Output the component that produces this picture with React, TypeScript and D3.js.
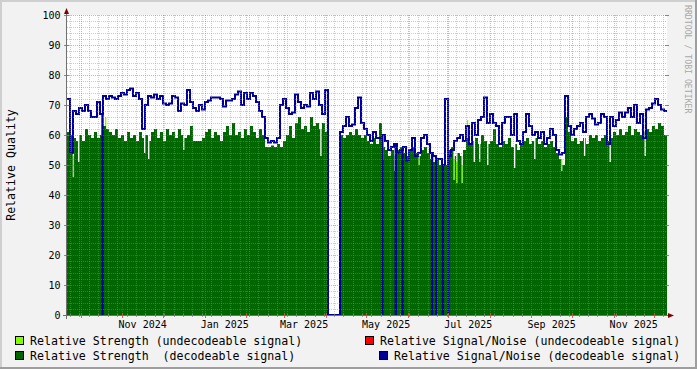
import React from 'react';
import * as d3 from 'd3';

const W = 697;
const H = 369;
const START = new Date(2024, 8, 20, 18);
const END = new Date(2025, 11, 10, 18);

// Relative strength of decodeable signal, regular samples across the window
const strength: number[] = [
  61, 60, 59, 58, 60, 58, 62, 60, 59, 61,
  59, 60, 63, 62, 61, 60, 62, 59, 60, 58,
  61, 59, 60, 58, 61, 59, 60, 58, 61, 62,
  59, 61, 58, 62, 60, 61, 59, 62, 60, 59,
  60, 63, 58, 58, 58, 59, 61, 62, 59, 61,
  60, 58, 61, 63, 60, 64, 60, 61, 59, 62,
  60, 63, 61, 59, 62, 60, 56, 56, 56.5, 56,
  57, 56, 58, 60, 63, 59, 64, 66, 62, 63,
  61, 66, 63, 64, 62, 64, 61, 0, 0, 0,
  0, 60, 59, 60, 61, 60, 62, 60, 59, 60,
  58, 57, 59, 57, 64, 56, 55, 53, 55, 53,
  55, 56, 54, 53, 55, 56, 54, 53, 55, 56,
  54, 52, 51, 52, 50, 51, 50, 55, 56, 53,
  54, 53, 55, 59, 57, 58, 59, 57, 60, 58,
  57, 58, 62, 57, 56, 58, 57, 59, 56, 57,
  55, 57, 58, 59, 57, 58, 59, 57, 58, 56,
  57, 58, 56, 54, 52, 50, 66, 61, 58, 59,
  57, 58, 59, 57, 60, 59, 60, 58, 59, 60,
  58, 59, 61, 60, 62, 60, 61, 63, 60, 62,
  61, 60, 61, 62, 61, 63, 62, 64, 63, 60,
];

// Relative signal/noise of decodeable signal, same samples
const snr: number[] = [
  72, 54, 68, 67, 69, 68, 70, 68, 66, 66,
  71, 67, 73, 72, 73, 72.5, 72, 73, 74, 73.5,
  75, 75.5, 73, 74, 72, 62, 70, 73, 72.5, 73.5,
  72, 73, 70.5, 70, 70.5, 73, 72.5, 68, 70.5, 70,
  75, 71, 69, 68, 70, 68.5, 71, 71.5, 72.5, 72.5,
  72.5, 72, 69.5, 71.5, 71.5, 72, 73.5, 74.5, 70, 74,
  72, 74, 73, 71, 68, 66, 59, 57.5, 58, 57.5,
  59, 70, 72, 69, 67, 67.5, 73.5, 71, 69, 70,
  69.5, 74, 72, 74.5, 70, 67, 75, 0, 0, 0,
  0, 61, 63, 66, 63, 63.5, 69, 72.5, 64, 62,
  60, 58, 61, 59, 59, 60, 58, 55, 56, 57,
  54, 55, 56, 51.5, 55, 59, 53, 54, 59, 60,
  57, 54, 53, 52, 52, 50, 72, 53, 55, 58,
  59, 60, 58, 63, 57, 64, 60, 65, 66, 72.5,
  64, 67, 64, 63, 57, 64, 66, 66, 60, 67,
  58, 57, 61, 67, 63, 60, 61, 59, 61, 57,
  59, 62, 60, 55, 53.5, 54, 73, 63, 60, 62,
  63, 64, 61, 66, 67, 65.5, 63.5, 64, 67, 66,
  57, 66, 63, 65, 67.5, 66, 67.5, 69, 66, 70,
  64, 67, 59, 68.5, 69, 70.5, 72, 70, 68.5, 68,
];

// Single-day dips of decodeable strength, and undecodeable strength on those days
const notchDates: string[] = [
  '2024-09-25', '2024-09-29', '2024-10-19', '2024-11-17', '2024-11-20', '2024-12-16',
  '2025-03-28', '2025-05-13', '2025-05-22', '2025-06-09', '2025-06-27', '2025-07-05',
  '2025-07-07', '2025-07-11', '2025-07-15', '2025-07-20', '2025-07-24', '2025-07-30',
  '2025-08-19', '2025-09-03', '2025-09-23', '2025-10-10', '2025-10-29', '2025-11-24',
];
const notchDecodeable: (number | null)[] = [
  46, 51, null, 54, 52, 55,
  53, 52, 48, 50, 48, 45,
  44, 44, null, 51, 51, 50,
  49, 52, 48, 53, 51, 53,
];
const notchUndecodeable: (number | null)[] = [
  53, null, 66, null, null, null,
  null, 56, null, 53, 50, 52,
  51, 50, 65, null, 52, null,
  null, null, 52, null, null, null,
];

// Moments where the signal/noise of decodeable signal fell to zero
const snrDropDates: string[] = [
  '2024-10-17', '2025-05-13', '2025-05-23', '2025-05-28',
  '2025-06-19', '2025-06-22', '2025-06-27', '2025-07-01',
];

const yTicks: number[] = [0, 10, 20, 30, 40, 50, 60, 70, 80, 90, 100];
const labelMonths: string[] = [
  '2024-11-01', '2025-01-01', '2025-03-01', '2025-05-01', '2025-07-01', '2025-09-01', '2025-11-01',
];

const legendRow1 = ['Relative Strength (undecodeable signal)', 'Relative Signal/Noise (undecodeable signal)'];
const legendRow2 = ['Relative Strength  (decodeable signal)', 'Relative Signal/Noise (decodeable signal)'];

const C_DEC = '#006600';
const C_UNDEC = '#7FFF00';
const C_SNR_UNDEC = '#FF0000';
const C_SNR = '#000099';
const FONT = "'DejaVu Sans Mono', monospace";

const X0 = 67, X1 = 667, Y0 = 315, Y1 = 15;
const DAY = 864e5;

export default function App() {
  const parse = d3.timeParse('%Y-%m-%d');
  const x = d3.scaleTime().domain([START, END]).range([X0, X1]);
  const y = d3.scaleLinear().domain([0, 100]).range([Y0, Y1]);
  const N = strength.length;
  const step = (+END - +START) / N;
  const tAt = (i: number) => new Date(+START + i * step);
  const idxAt = (t: number) => Math.min(N - 1, Math.max(0, Math.floor((t - +START) / step)));

  type P = [Date, number];

  // decodeable strength with single-day dips merged in
  const notches = notchDates.map((d, k) => ({ t: +(parse(d) as Date), dec: notchDecodeable[k], und: notchUndecodeable[k] }));
  const decPts: P[] = [];
  for (let i = 0; i < N; i++) {
    const t = +tAt(i);
    if (!notches.some(n => n.dec != null && t >= n.t && t < n.t + DAY)) decPts.push([tAt(i), strength[i]]);
  }
  notches.forEach(n => {
    if (n.dec == null) return;
    decPts.push([new Date(n.t), n.dec]);
    const e = n.t + DAY;
    decPts.push([new Date(e), strength[idxAt(e)]]);
  });
  decPts.push([END, strength[N - 1]]);
  decPts.sort((a, b) => +a[0] - +b[0]);

  const undPts: P[] = [[START, 0]];
  notches.forEach(n => {
    if (n.und == null) return;
    undPts.push([new Date(n.t), n.und]);
    undPts.push([new Date(n.t + DAY), 0]);
  });
  undPts.push([END, 0]);
  undPts.sort((a, b) => +a[0] - +b[0]);

  const drops = snrDropDates.map(d => +(parse(d) as Date));
  const DW = 0.3 * DAY;
  const snrPts: P[] = [];
  for (let i = 0; i < N; i++) {
    const t = +tAt(i);
    if (!drops.some(d => t >= d && t < d + DW)) snrPts.push([tAt(i), snr[i]]);
  }
  drops.forEach(d => {
    snrPts.push([new Date(d), 0]);
    snrPts.push([new Date(d + DW), snr[idxAt(d + DW)]]);
  });
  snrPts.push([END, snr[N - 1]]);
  snrPts.sort((a, b) => +a[0] - +b[0]);

  const area = d3.area<P>().x(d => x(d[0])).y0(y(0)).y1(d => y(d[1])).curve(d3.curveStepAfter);
  const line = d3.line<P>().x(d => x(d[0])).y(d => y(d[1])).curve(d3.curveStepAfter);

  const months = d3.timeMonth.range(START, END);
  const monthSet = new Set(months.map(m => +m));
  const weeks = d3.timeMonday.range(START, END).filter(w => !monthSet.has(+w));
  const minorY = d3.range(2, 100, 2).filter(v => v % 10 !== 0);
  const fmt = d3.timeFormat('%b %Y');

  const minorC = 'rgba(143,143,143,0.45)';
  const majorC = 'rgba(222,80,80,0.5)';

  return (
    <div style={{ position: 'absolute', left: 0, top: 0 }}>
      <svg width={W} height={H} style={{ display: 'block' }}>
        <rect x={0} y={0} width={W} height={H} fill="#F2F2F2" />
        <rect x={0} y={0} width={W} height={2} fill="#CFCFCF" />
        <rect x={0} y={0} width={2} height={H} fill="#CFCFCF" />
        <rect x={0} y={H - 2} width={W} height={2} fill="#9E9E9E" />
        <rect x={W - 2} y={0} width={2} height={H} fill="#9E9E9E" />
        <rect x={X0} y={Y1} width={X1 - X0} height={Y0 - Y1} fill="#FFFFFF" />

        <path d={area(undPts) || ''} fill={C_UNDEC} />
        <path d={area(decPts) || ''} fill={C_DEC} />
        <path d={line(snrPts) || ''} fill="none" stroke={C_SNR} strokeWidth={2} />

        {/* grid */}
        {minorY.map(v => (
          <line key={'my' + v} x1={X0} x2={X1} y1={y(v) + 0.5} y2={y(v) + 0.5} stroke={minorC} strokeDasharray="1,1" />
        ))}
        {weeks.map(w => (
          <line key={'mx' + +w} x1={Math.round(x(w)) + 0.5} x2={Math.round(x(w)) + 0.5} y1={Y1} y2={Y0} stroke={minorC} strokeDasharray="1,1" />
        ))}
        {yTicks.filter(v => v > 0).map(v => (
          <line key={'My' + v} x1={X0} x2={X1} y1={y(v) + 0.5} y2={y(v) + 0.5} stroke={majorC} strokeDasharray="1,1" />
        ))}
        {months.map(m => (
          <line key={'Mx' + +m} x1={Math.round(x(m)) + 0.5} x2={Math.round(x(m)) + 0.5} y1={Y1} y2={Y0} stroke={majorC} strokeDasharray="1,1" />
        ))}

        {/* ticks */}
        {weeks.map(w => (
          <line key={'tw' + +w} x1={Math.round(x(w)) + 0.5} x2={Math.round(x(w)) + 0.5} y1={Y0 - 1} y2={Y0 + 2} stroke="rgba(143,143,143,0.8)" />
        ))}
        {months.map(m => (
          <line key={'tm' + +m} x1={Math.round(x(m)) + 0.5} x2={Math.round(x(m)) + 0.5} y1={Y0 - 2} y2={Y0 + 3} stroke="rgba(222,80,80,0.9)" />
        ))}
        {yTicks.map(v => (
          <g key={'ty' + v}>
            <line x1={X0 - 3} x2={X0 + 2} y1={y(v) + 0.5} y2={y(v) + 0.5} stroke="rgba(222,80,80,0.9)" />
            <line x1={X1 - 2} x2={X1 + 2} y1={y(v) + 0.5} y2={y(v) + 0.5} stroke="rgba(222,80,80,0.9)" />
          </g>
        ))}

        {/* axes */}
        <line x1={X0 - 4} x2={X1 + 3} y1={Y0 + 0.5} y2={Y0 + 0.5} stroke="#707070" />
        <line x1={X0 - 0.5} x2={X0 - 0.5} y1={Y0 + 4} y2={Y1 - 2} stroke="#707070" />
        <polygon points={`${X0 - 3},${Y1 - 1} ${X0 + 2},${Y1 - 1} ${X0 - 0.5},${Y1 - 7}`} fill="#7F0000" />
        <polygon points={`${X1 + 1},${Y0 - 2} ${X1 + 1},${Y0 + 3} ${X1 + 7},${Y0 + 0.5}`} fill="#7F0000" />

        {/* labels */}
        {yTicks.map(v => (
          <text key={'yl' + v} x={60.5} y={y(v) + 3.5} textAnchor="end" fontFamily={FONT} fontSize={10} fill="#000">{v}</text>
        ))}
        {labelMonths.map(s => {
          const d = parse(s) as Date;
          return (
            <text key={'xl' + s} x={x(new Date(+d + 15 * DAY))} y={328} textAnchor="middle" fontFamily={FONT} fontSize={10} fill="#000">{fmt(d)}</text>
          );
        })}
        <text transform="translate(15,165) rotate(-90)" textAnchor="middle" fontFamily={FONT} fontSize={11.6} fill="#000">Relative Quality</text>
        <text transform="translate(685,5) rotate(90)" fontFamily={FONT} fontSize={8.2} fill="#A8A8A8">RRDTOOL / TOBI OETIKER</text>

        {/* legend */}
        <rect x={15.5} y={336.5} width={8} height={8} fill={C_UNDEC} stroke="#000" />
        <text x={30} y={345} fontFamily={FONT} fontSize={11.6} style={{ whiteSpace: 'pre' }}>{legendRow1[0]}</text>
        <rect x={365.5} y={336.5} width={8} height={8} fill={C_SNR_UNDEC} stroke="#000" />
        <text x={380} y={345} fontFamily={FONT} fontSize={11.6} style={{ whiteSpace: 'pre' }}>{legendRow1[1]}</text>
        <rect x={15.5} y={351.5} width={8} height={8} fill={C_DEC} stroke="#000" />
        <text x={30} y={360} fontFamily={FONT} fontSize={11.6} style={{ whiteSpace: 'pre' }}>{legendRow2[0]}</text>
        <rect x={379.5} y={351.5} width={8} height={8} fill={C_SNR} stroke="#000" />
        <text x={394} y={360} fontFamily={FONT} fontSize={11.6} style={{ whiteSpace: 'pre' }}>{legendRow2[1]}</text>
      </svg>
    </div>
  );
}
